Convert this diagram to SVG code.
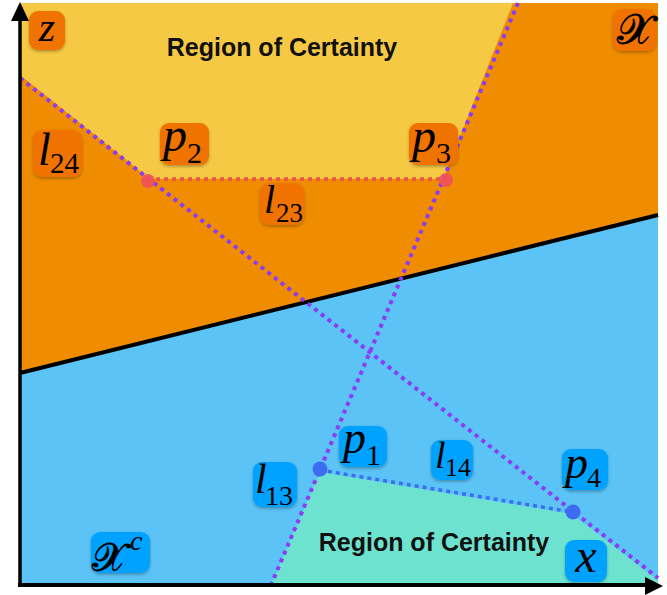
<svg xmlns="http://www.w3.org/2000/svg" width="667" height="595" viewBox="0 0 667 595">
<style>
.m{font-family:"Liberation Serif","DejaVu Serif",serif;font-style:italic;fill:#000}
.d{font-family:"Liberation Serif","DejaVu Serif",serif;font-style:normal}
.s{font-family:"DejaVu Serif","DejaVu Sans","Noto Sans",serif;fill:#000;stroke:#000;stroke-width:0.8}
.roc{font-family:"Liberation Sans","Arial",sans-serif;font-weight:bold;font-size:25px;fill:#111;text-anchor:middle}
.bo{fill:#f07300;filter:url(#sh)}
.bb{fill:#00a2ff;filter:url(#sh)}
.pur{stroke:#8a3cf6;stroke-width:4;stroke-dasharray:4 4.5;fill:none}
</style>
<defs>
<filter id="sh" x="-20%" y="-20%" width="140%" height="150%">
<feDropShadow dx="0" dy="1.5" stdDeviation="1.5" flood-color="#000" flood-opacity="0.3"/>
</filter>
</defs>
<g id="regions">
<rect x="20" y="3" width="638" height="582" fill="#5bc3f6"/>
<polygon points="20,3 658,3 658,215 20,373" fill="#f08c00"/>
<polygon points="20,3 513,3 443,179 150,179 20,75" fill="#f6c944"/>
<polygon points="320,472 572,514 658,580 658,585 271,585" fill="#6de3cf"/>
</g>
<g id="connectors">
<line x1="20" y1="373" x2="658" y2="215" stroke="#000" stroke-width="4"/>
<line class="pur" x1="20" y1="78" x2="658" y2="578"/>
<line class="pur" x1="518" y1="3" x2="271" y2="585"/>
<line x1="148" y1="179" x2="445" y2="179" stroke="#f0504a" stroke-width="3.5" stroke-dasharray="4 4"/>
<line x1="320" y1="470" x2="572" y2="512" stroke="#3a6ff2" stroke-width="3.5" stroke-dasharray="4 4"/>
<circle cx="148" cy="181" r="7" fill="#f0505a" opacity="0.9"/>
<circle cx="446" cy="180" r="7" fill="#f0505a" opacity="0.9"/>
<circle cx="320" cy="469" r="7.5" fill="#3d6cf0"/>
<circle cx="573" cy="512" r="7.5" fill="#3d6cf0"/>
</g>
<g id="axes">
<line x1="20" y1="587" x2="20" y2="18" stroke="#000" stroke-width="3.5"/>
<polygon points="20,2 11,21 29,21" fill="#000"/>
<line x1="18" y1="585" x2="647" y2="585" stroke="#000" stroke-width="4"/>
<polygon points="663,586 645,577 645,595" fill="#000"/>
</g>
<g id="roc-top"><text class="roc" x="282" y="56">Region of Certainty</text></g>
<g id="roc-bottom"><text class="roc" x="434" y="551">Region of Certainty</text></g>
<g id="z"><rect class="bo" x="29" y="11" width="36" height="39" rx="9"/><text class="m" x="47" y="41" font-size="42" text-anchor="middle">z</text></g>
<g id="X"><rect class="bo" x="613" y="9" width="43" height="42" rx="9"/><text class="s" x="634.5" y="44" font-size="42" text-anchor="middle">𝒳</text></g>
<g id="l24"><rect class="bo" x="33" y="130" width="49" height="47" rx="9"/><text class="m" x="38" y="165" font-size="46">l<tspan class="d" x="50" y="173" font-size="29">24</tspan></text></g>
<g id="p2"><rect class="bo" x="160" y="123" width="49" height="42" rx="9"/><text class="m" x="163" y="151" font-size="48">p<tspan class="d" x="187" y="163" font-size="30">2</tspan></text></g>
<g id="p3"><rect class="bo" x="409" y="123" width="49" height="42" rx="9"/><text class="m" x="412" y="152" font-size="48">p<tspan class="d" x="436" y="163" font-size="30">3</tspan></text></g>
<g id="l23"><rect class="bo" x="260" y="183" width="44" height="42" rx="9"/><text class="m" x="264" y="213" font-size="40">l<tspan class="d" x="276" y="222" font-size="27">23</tspan></text></g>
<g id="l13"><rect class="bb" x="253" y="462" width="44" height="45" rx="9"/><text class="m" x="255" y="493" font-size="42">l<tspan class="d" x="265" y="505" font-size="28">13</tspan></text></g>
<g id="p1"><rect class="bb" x="339" y="426" width="48" height="41" rx="9"/><text class="m" x="343" y="453" font-size="46">p<tspan class="d" x="366" y="465" font-size="30">1</tspan></text></g>
<g id="l14"><rect class="bb" x="431" y="440" width="42" height="40" rx="9"/><text class="m" x="435" y="468" font-size="38">l<tspan class="d" x="445" y="476" font-size="26">14</tspan></text></g>
<g id="p4"><rect class="bb" x="562" y="449" width="46" height="41" rx="9"/><text class="m" x="565" y="478" font-size="46">p<tspan class="d" x="587" y="487" font-size="28">4</tspan></text></g>
<g id="x"><rect class="bb" x="565" y="540" width="42" height="42" rx="9"/><text class="m" x="586" y="572" font-size="48" text-anchor="middle">x</text></g>
<g id="Xc"><rect class="bb" x="91" y="532" width="59" height="41" rx="9"/><text class="s" x="92" y="571" font-size="40">𝒳</text><text class="m" x="130" y="550" font-size="28">c</text></g>
</svg>
